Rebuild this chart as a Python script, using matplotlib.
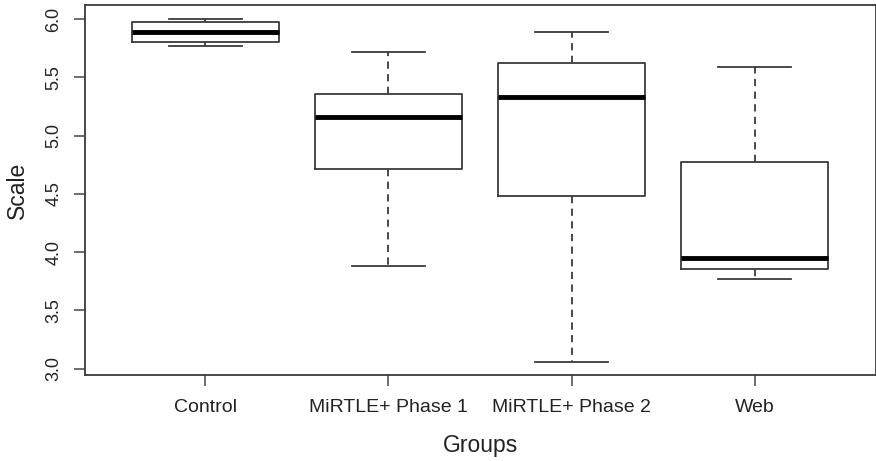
import matplotlib
matplotlib.use("Agg")
import matplotlib.pyplot as plt

groups = ["Control", "MiRTLE+ Phase 1", "MiRTLE+ Phase 2", "Web"]
whisker_low = [5.77, 3.88, 3.06, 3.77]
q1 = [5.80, 4.71, 4.48, 3.855]
median = [5.885, 5.155, 5.33, 3.945]
q3 = [5.97, 5.355, 5.62, 4.77]
whisker_high = [6.00, 5.715, 5.885, 5.59]
yticks = [3.0, 3.5, 4.0, 4.5, 5.0, 5.5, 6.0]

plt.rcParams['font.family'] = ['Liberation Sans', 'DejaVu Sans']

fig = plt.figure(figsize=(8.76, 4.61), dpi=100)
ax = fig.add_axes([84.5/876, 1-375/461, (875.5-84.5)/876, 370/461])

stats = []
for g, lo, a, m, b, hi in zip(groups, whisker_low, q1, median, q3, whisker_high):
    stats.append(dict(label=g, whislo=lo, q1=a, med=m, q3=b, whishi=hi, fliers=[]))

edge = '#3a3a3a'
ax.bxp(stats, positions=[1, 2, 3, 4], widths=0.8, showfliers=False,
       boxprops=dict(color=edge, linewidth=1.3),
       medianprops=dict(color='black', linewidth=3.5, solid_capstyle='butt'),
       whiskerprops=dict(color=edge, linewidth=1.3, linestyle=(0, (4, 3))),
       capprops=dict(color=edge, linewidth=1.3),
       capwidths=0.4)

ax.set_xlim(0.34, 4.66)
ax.set_ylim(2.945, 6.12)
ax.set_yticks(yticks)
ax.set_yticklabels([f"{v:.1f}" for v in yticks], rotation=90, va='center')
ax.set_xticks([1, 2, 3, 4])
ax.set_xticklabels(groups)

for s in ax.spines.values():
    s.set_color(edge)
    s.set_linewidth(1.3)

ax.tick_params(axis='both', direction='out', length=8, width=1.2, color='#555555',
               labelcolor='#222222')
ax.tick_params(axis='x', labelsize=14, pad=9)
ax.tick_params(axis='y', labelsize=13, pad=8)

ax.set_xlabel("Groups", fontsize=16.5, color='#222222', labelpad=13)
ax.set_ylabel("Scale", fontsize=16.5, color='#222222', labelpad=12)

fig.savefig("out.png", dpi=100)
